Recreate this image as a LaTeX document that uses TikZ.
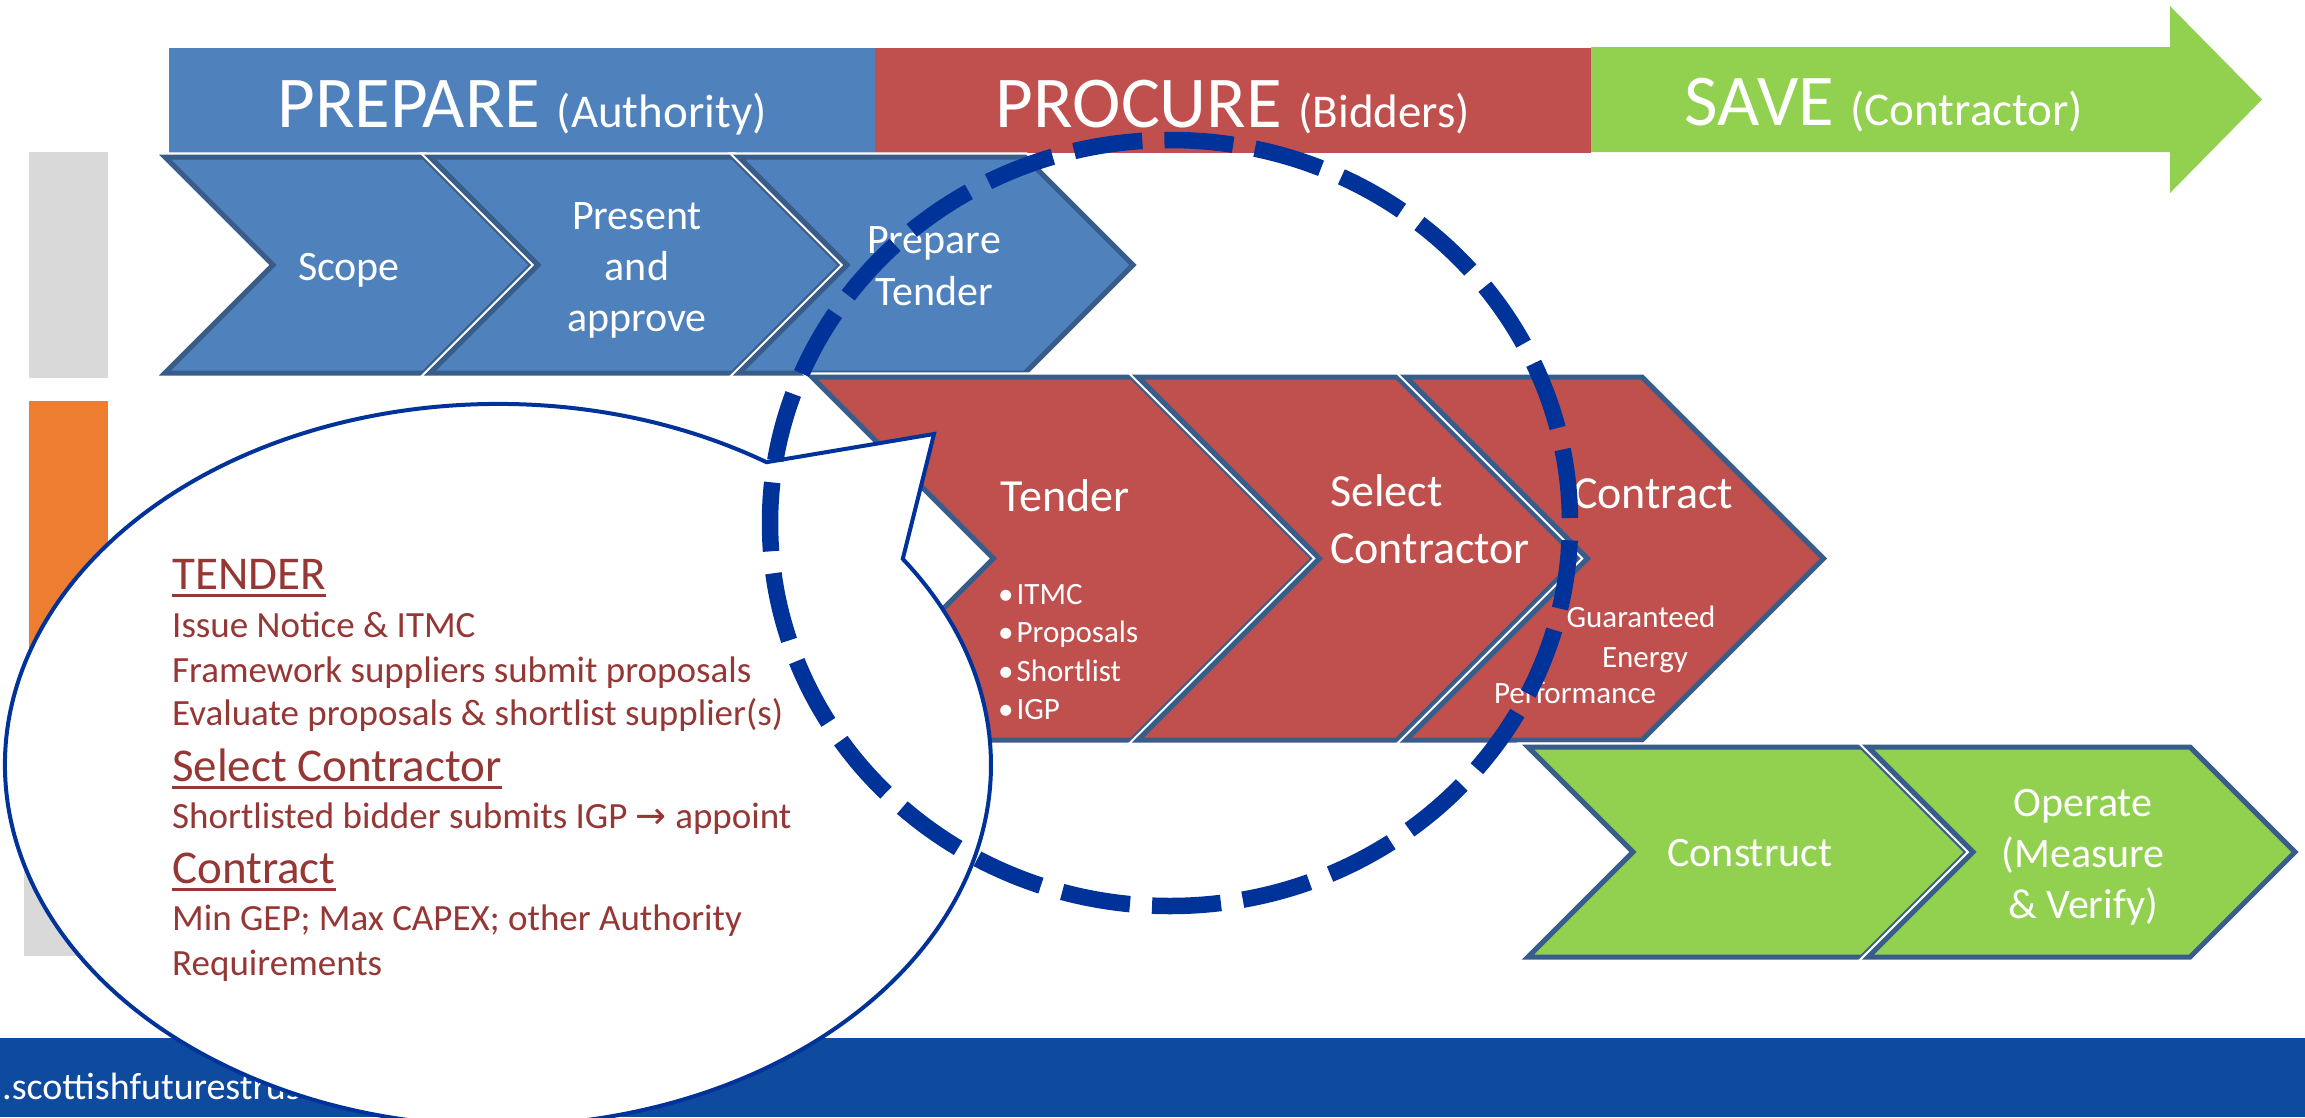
\documentclass[tikz,border=0pt]{standalone}
\usepackage{fontspec}
\setmainfont{Carlito}
\newfontfamily\symfont{DejaVu Sans}
\newcommand{\fsz}[2]{\fontsize{#1}{#2}\selectfont}
\definecolor{pblue}{HTML}{4F81BD}
\definecolor{pred}{HTML}{C0504D}
\definecolor{pgreen}{HTML}{92D050}
\definecolor{chevline}{HTML}{385D8A}
\definecolor{ringblue}{HTML}{003399}
\definecolor{calltext}{HTML}{953735}
\definecolor{footblue}{HTML}{0E4A9E}
\definecolor{lgrey}{HTML}{D9D9D9}
\definecolor{porange}{HTML}{ED7D31}
\newcommand{\chevshape}[6]{%
  \path[#1] (#2,#4) -- (#3,#4) -- ({#3+#6},{(#4+#5)/2}) -- (#3,#5) -- (#2,#5) -- ({#2+#6},{(#4+#5)/2}) -- cycle;}
\begin{document}
\begin{tikzpicture}[x=1pt,y=-1pt,
  wtext/.style={text=white, inner sep=0pt},
  chev/.style={draw=chevline, line width=5pt, line join=miter, preaction={draw=white, line width=9.5pt, line join=miter}},
  ctext/.style={text=calltext, inner sep=0pt, anchor=base west},
  uline/.style={draw=calltext, line width=3pt},
]
\useasboundingbox (0,0) rectangle (2305,1117);
\fill[white] (0,0) rectangle (2305,1117);
% header bars
\fill[pblue] (169,48) rectangle (875,153);
\fill[pred] (875,48) rectangle (1591,153);
\fill[pgreen] (1591,47) -- (2170,47) -- (2170,6) -- (2262,99.5) -- (2170,193) -- (2170,152) -- (1591,152) -- cycle;
\node[wtext, anchor=base] (hprep) at (522,127) {\fsz{73}{80}PREPARE \fsz{47}{50}(Authority)};
\node[wtext, anchor=base] (hproc) at (1233,127) {\fsz{73}{80}PROCURE \fsz{47}{50}(Bidders)};
\node[wtext, anchor=base] (hsave) at (1884,125) {\fsz{73}{80}SAVE \fsz{47}{50}(Contractor)};
% left bars
\fill[lgrey] (29,152) rectangle (108,378);
\fill[porange] (29,401) rectangle (108,745);
\fill[lgrey] (24,752) rectangle (104,956);
% footer
\fill[footblue] (0,1038) rectangle (2305,1117);
\node[wtext, anchor=base west] (url) at (2,1099) {\fsz{38}{40}.scottishfuturestrust};
% blue chevrons
\chevshape{chev, fill=pblue}{165}{424}{157}{373}{108}
\chevshape{chev, fill=pblue}{430}{733}{157}{373}{108}
\chevshape{chev, fill=pblue}{739}{1025}{157}{373}{108}
\node[wtext, anchor=base] (scope) at (349,280) {\fsz{42}{52}Scope};
\node[wtext, align=center, font=\fsz{42}{51}] (present) at (637,270) {Present\\and\\approve};
\node[wtext, align=center, font=\fsz{42}{52}] (prep) at (934,266) {Prepare\\Tender};
% red chevrons
\chevshape{chev, fill=pred}{812}{1132}{377}{740}{181.5}
\chevshape{chev, fill=pred}{1138}{1397}{377}{740}{181.5}
\chevshape{chev, fill=pred}{1406}{1642}{377}{740}{181.5}
\node[wtext, anchor=base] (tender) at (1065,511) {\fsz{46}{52}Tender};
\node[wtext, anchor=west, align=left, font=\fsz{31}{38.5}] (bul) at (998,652) {•\hspace{3pt}ITMC\\•\hspace{3pt}Proposals\\•\hspace{3pt}Shortlist\\•\hspace{3pt}IGP};
\node[wtext, anchor=west, align=left, font=\fsz{46}{56.5}] (selc) at (1330,519) {Select\\Contractor};
\node[wtext, anchor=base] (contr) at (1653,508) {\fsz{46}{52}Contract};
\node[wtext, anchor=base] (gep1) at (1641,627) {\fsz{31}{38}Guaranteed};
\node[wtext, anchor=base] (gep2) at (1645,667) {\fsz{31}{38}Energy};
\node[wtext, anchor=base] (gep3) at (1575,703) {\fsz{31}{38}Performance};
% green chevrons
\chevshape{chev, fill=pgreen}{1528}{1862}{747}{957}{105}
\chevshape{chev, fill=pgreen}{1868}{2190}{747}{957}{105}
\node[wtext, anchor=base] (constr) at (1750,866) {\fsz{42}{52}Construct};
\node[wtext, align=center, font=\fsz{42}{51}] (oper) at (2083,857) {Operate\\(Measure\\\& Verify)};
% callout
\draw[draw=ringblue, line width=4pt, fill=white, line join=miter] (766.5,462.2) arc[start angle=57, end angle=394.8, x radius=493pt, y radius=361pt] -- (934,434) -- cycle;
\node[ctext] (c1) at (172,589) {\fsz{47}{50}TENDER};
\node[ctext] (c2) at (172,637) {\fsz{37}{40}Issue Notice \& ITMC};
\node[ctext] (c3) at (172,682) {\fsz{37}{40}Framework suppliers submit proposals};
\node[ctext] (c4) at (172,725) {\fsz{37}{40}Evaluate proposals \& shortlist supplier(s)};
\node[ctext] (c5) at (172,781) {\fsz{47}{50}Select Contractor};
\node[ctext] (c6) at (172,828) {\fsz{37}{40}Shortlisted bidder submits IGP {\symfont →} appoint};
\node[ctext] (c7) at (172,883) {\fsz{47}{50}Contract};
\node[ctext] (c8) at (172,930) {\fsz{37}{40}Min GEP; Max CAPEX; other Authority};
\node[ctext] (c9) at (172,975) {\fsz{37}{40}Requirements};
\draw[uline] ([yshift=-6.5pt]c1.base west) -- ([yshift=-6.5pt]c1.base east);
\draw[uline] ([yshift=-6.5pt]c5.base west) -- ([yshift=-6.5pt]c5.base east);
\draw[uline] ([yshift=-6.5pt]c7.base west) -- ([yshift=-6.5pt]c7.base east);
% dashed ring
\draw[ringblue, line width=16.5pt, dash pattern=on 69pt off 22.12pt, dash phase=86.12pt] (1170,523) ellipse [x radius=400pt, y radius=383pt];
\end{tikzpicture}
\end{document}
